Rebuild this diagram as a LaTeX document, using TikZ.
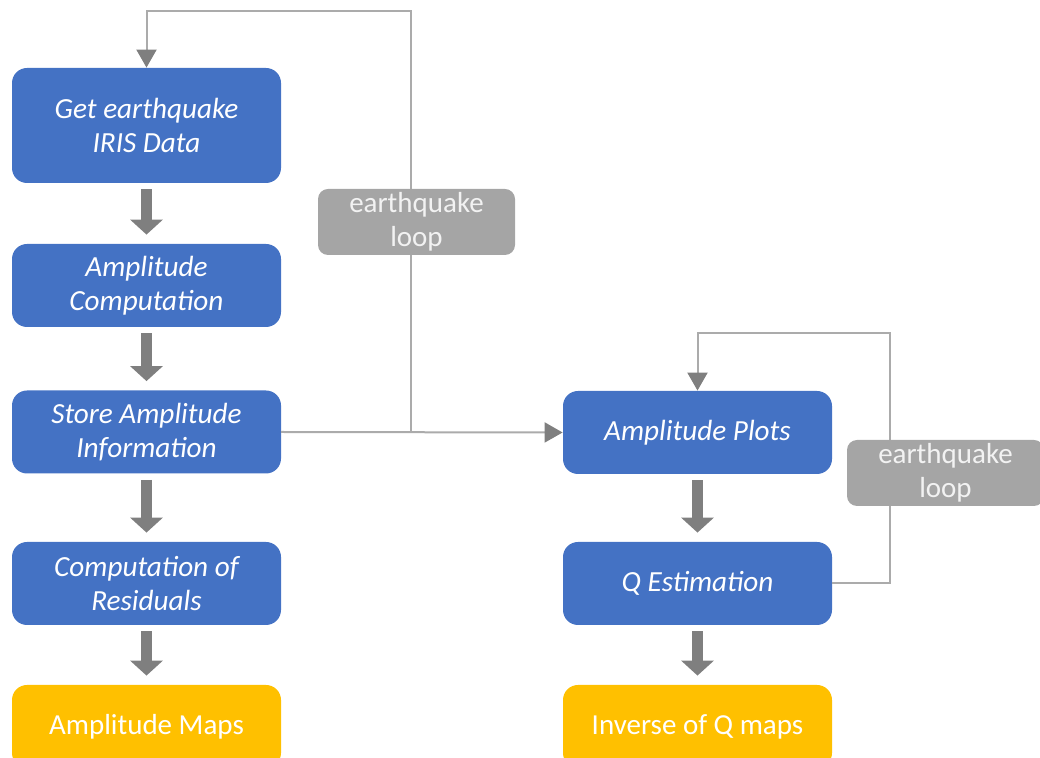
\documentclass[tikz,border=0pt]{standalone}
\usepackage{fontspec}
\setmainfont{Carlito}
\usetikzlibrary{arrows.meta}
\definecolor{boxblue}{HTML}{4472C4}
\definecolor{mapyellow}{HTML}{FFC000}
\definecolor{loopgray}{HTML}{A5A5A5}
\definecolor{linegray}{HTML}{ABABAB}
\definecolor{arrowgray}{HTML}{7F7F7F}
\begin{document}
\begin{tikzpicture}[
    x=0.5pt, y=-0.5pt,
    stepbox/.style={rectangle, rounded corners=7.5pt, fill=boxblue, text=white, align=center,
        minimum width=134.5pt, minimum height=41.5pt, inner sep=0pt,
        font=\fontsize{14.6}{16.8}\selectfont\itshape},
    mapbox/.style={stepbox, fill=mapyellow, font=\fontsize{14.5}{16.8}\selectfont},
    loopbox/.style={rectangle, rounded corners=5pt, fill=loopgray, text=white!95!black, align=center,
        minimum width=98.5pt, minimum height=33pt, inner sep=0pt,
        font=\fontsize{14.5}{17}\selectfont},
    blockarrow/.style={draw=arrowgray, line width=5.5pt, shorten <=3pt, shorten >=4.5pt,
        -{Triangle[width=16pt,length=7.5pt]}},
    loopline/.style={draw=linegray, line width=1pt,
        -{Triangle[width=10pt,length=9pt,color=arrowgray,fill=arrowgray]}}
]
\useasboundingbox (0,0) rectangle (1040,758);

% left column
\node (getdata) at (146.5,125.5) [stepbox, minimum height=57.5pt] {Get earthquake\\IRIS Data};
\node (ampcomp) at (146.5,285.5) [stepbox] {Amplitude\\Computation};
\node (store) at (146.5,432) [stepbox] {Store Amplitude\\Information};
\node (resid) at (146.5,583.5) [stepbox] {Computation of\\Residuals};
\node (ampmaps) at (146.5,726.5) [mapbox] {Amplitude Maps};

% right column
\node (plots) at (697.5,432.5) [stepbox] {Amplitude Plots};
\node (qest) at (697.5,583.5) [stepbox] {Q Estimation};
\node (qmaps) at (697.5,726.5) [mapbox] {Inverse of Q maps};

% block arrows
\draw[blockarrow] (getdata) -- (ampcomp);
\draw[blockarrow] (ampcomp) -- (store);
\draw[blockarrow] (store) -- (resid);
\draw[blockarrow] (resid) -- (ampmaps);
\draw[blockarrow] (plots) -- (qest);
\draw[blockarrow] (qest) -- (qmaps);

% loops
\coordinate (eqtop) at (411,11);
\coordinate (qtop) at (890,333);
\draw[loopline] (store.east) -| (eqtop) -| (getdata.north);
\draw[loopline] (store.east) -- (plots.west);
\draw[loopline] (qest.east) -| (qtop) -| (plots.north);

\node (eqloop) at (416.5,222) [loopbox] {earthquake\\loop};
\node (qloop) at (945.5,473) [loopbox] {earthquake\\loop};
\end{tikzpicture}
\end{document}
